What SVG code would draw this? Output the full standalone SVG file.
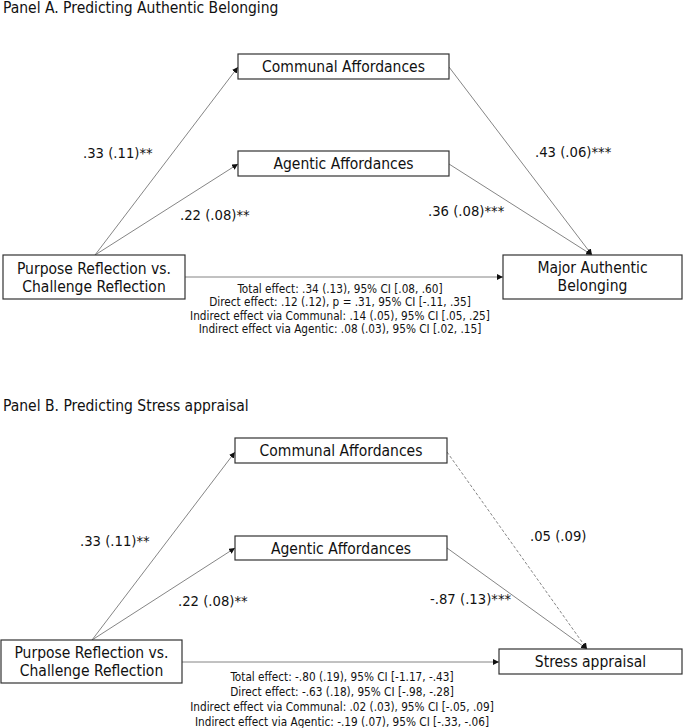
<svg xmlns="http://www.w3.org/2000/svg" width="685" height="728" viewBox="0 0 685 728">
<style>
text{font-family:"DejaVu Sans Condensed","DejaVu Sans",sans-serif;font-stretch:condensed;fill:#111}
.title{font-size:15.5px}
.box{fill:#fff;stroke:#333;stroke-width:1.2}
.bt{font-size:15.5px;text-anchor:middle}
.lab{font-size:14.7px}
.st{font-size:11.7px;text-anchor:middle}
.c{stroke:#666;stroke-width:0.8;fill:none;marker-end:url(#ah)}
.d{stroke-dasharray:3 2}
</style>
<defs>
<marker id="ah" markerUnits="userSpaceOnUse" markerWidth="7" markerHeight="6" refX="6" refY="3" orient="auto">
<path d="M0,0 L6,3 L0,6 z" fill="#111"/>
</marker>
</defs>
<rect width="685" height="728" fill="#fff"/>

<text class="title" x="3" y="13">Panel A. Predicting Authentic Belonging</text>
<text class="title" x="3" y="411">Panel B. Predicting Stress appraisal</text>

<g id="connectors">
<line class="c" x1="95" y1="255" x2="238" y2="67"/>
<line class="c" x1="95" y1="255" x2="238" y2="164"/>
<line class="c" x1="449" y1="67" x2="592" y2="255"/>
<line class="c" x1="449" y1="164" x2="592" y2="255"/>
<line class="c" x1="185" y1="277" x2="503" y2="277"/>
<line class="c" x1="92" y1="640" x2="235" y2="452"/>
<line class="c" x1="92" y1="640" x2="235" y2="548"/>
<line class="c d" x1="447" y1="452" x2="587" y2="649"/>
<line class="c" x1="447" y1="548" x2="587" y2="649"/>
<line class="c" x1="182" y1="662" x2="499" y2="662"/>
</g>

<g id="a-communal"><rect class="box" x="238" y="54" width="211" height="25"/><text class="bt" x="343.5" y="72">Communal Affordances</text></g>
<g id="a-agentic"><rect class="box" x="238" y="151" width="211" height="25"/><text class="bt" x="343.5" y="169">Agentic Affordances</text></g>
<g id="a-purpose"><rect class="box" x="3" y="255" width="182" height="44"/><text class="bt" x="94" y="274">Purpose Reflection vs.</text><text class="bt" x="94" y="292">Challenge Reflection</text></g>
<g id="a-major"><rect class="box" x="503" y="255" width="179" height="44"/><text class="bt" x="592.5" y="273">Major Authentic</text><text class="bt" x="592.5" y="291">Belonging</text></g>

<g id="a-labels">
<text class="lab" x="83" y="158">.33 (.11)**</text>
<text class="lab" x="180" y="220">.22 (.08)**</text>
<text class="lab" x="535" y="157">.43 (.06)***</text>
<text class="lab" x="428" y="216">.36 (.08)***</text>
<text class="st" x="340" y="293">Total effect: .34 (.13), 95% CI [.08, .60]</text>
<text class="st" x="340" y="306">Direct effect: .12 (.12), p = .31, 95% CI [-.11, .35]</text>
<text class="st" x="340" y="320">Indirect effect via Communal: .14 (.05), 95% CI [.05, .25]</text>
<text class="st" x="340" y="333">Indirect effect via Agentic: .08 (.03), 95% CI [.02, .15]</text>
</g>

<g id="b-communal"><rect class="box" x="235" y="438" width="212" height="25"/><text class="bt" x="341" y="456">Communal Affordances</text></g>
<g id="b-agentic"><rect class="box" x="235" y="536" width="212" height="24"/><text class="bt" x="341" y="554">Agentic Affordances</text></g>
<g id="b-purpose"><rect class="box" x="1" y="640" width="181" height="43"/><text class="bt" x="91.5" y="658">Purpose Reflection vs.</text><text class="bt" x="91.5" y="676">Challenge Reflection</text></g>
<g id="b-stress"><rect class="box" x="499" y="649" width="183" height="25"/><text class="bt" x="590.5" y="667">Stress appraisal</text></g>

<g id="b-labels">
<text class="lab" x="80" y="546">.33 (.11)**</text>
<text class="lab" x="178" y="606">.22 (.08)**</text>
<text class="lab" x="530" y="541">.05 (.09)</text>
<text class="lab" x="430" y="604">-.87 (.13)***</text>
<text class="st" x="342" y="681">Total effect: -.80 (.19), 95% CI [-1.17, -.43]</text>
<text class="st" x="342" y="696">Direct effect: -.63 (.18), 95% CI [-.98, -.28]</text>
<text class="st" x="342" y="711">Indirect effect via Communal: .02 (.03), 95% CI [-.05, .09]</text>
<text class="st" x="342" y="726">Indirect effect via Agentic: -.19 (.07), 95% CI [-.33, -.06]</text>
</g>
</svg>
